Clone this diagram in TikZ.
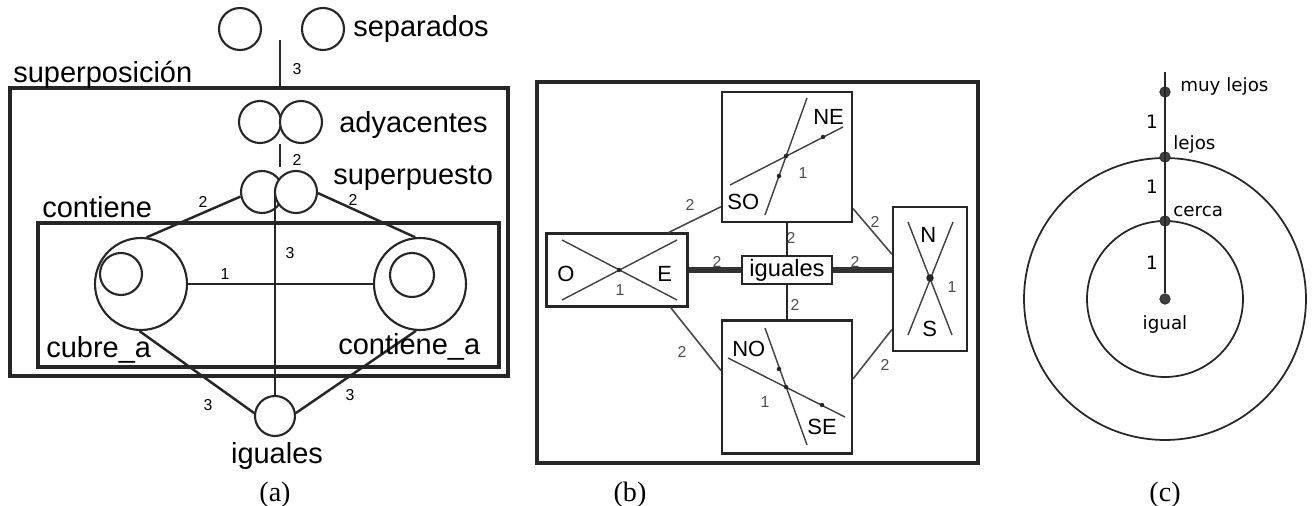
\documentclass[tikz,border=0pt]{standalone}
\usepackage{fontspec}
\setmainfont{Liberation Sans}
\newfontfamily\capfont{Liberation Serif}
\newfontfamily\dvfont{DejaVu Sans}
\usepackage{tikz}
\usetikzlibrary{calc}
\tikzset{
  cir/.style={circle,draw=black!85,fill=white,minimum size=.84cm,inner sep=0pt,line width=1.2pt},
  cirb/.style={cir,minimum size=1.84cm},
  ring/.style={circle,draw=black!85,inner sep=0pt,line width=1pt},
  bx/.style={draw=black!85,line width=2pt},
  bxb/.style={draw=black!85,line width=1.8pt},
  bxs/.style={rectangle,draw=black!85,fill=white,line width=1.2pt,inner sep=0pt},
  lnk/.style={draw=black!85,line width=1.4pt},
  lnt/.style={draw=black!72,line width=.9pt},
  lnw/.style={draw=black!80,line width=3.4pt},
  lnc/.style={draw=black!85,line width=1.1pt},
  dgl/.style={draw=black!75,line width=.8pt},
  dt/.style={circle,fill=black!75,draw=black!85,minimum size=2.1mm,inner sep=0pt},
  pt/.style={circle,fill=black!85,minimum size=.9mm,inner sep=0pt},
  la/.style={font=\fontsize{16.5}{18}\selectfont,inner sep=0pt},
  lbx/.style={font=\fontsize{12.5}{14}\selectfont,inner sep=0pt},
  lc/.style={font=\dvfont\fontsize{10.4}{12}\selectfont,inner sep=0pt},
  nm/.style={font=\fontsize{9}{10}\selectfont},
  nmg/.style={font=\fontsize{9}{10}\selectfont,text=black!70},
  nmc/.style={font=\dvfont\fontsize{10.5}{12}\selectfont},
  capt/.style={font=\capfont\fontsize{16}{18}\selectfont},
}

\begin{document}
\begin{tikzpicture}[x=.02cm,y=-.02cm]
\useasboundingbox (0,0) rectangle (1312,506);
% ---- (a) superposicion
\node[cir] (sepL) at (240,29) {}; \node[cir] (sepR) at (323,29) {};
\node[la,anchor=base west] (tsep) at (353,37) {separados};
\coordinate (sepC) at (280,40);
\draw[bx] (10,88) coordinate (supTL) rectangle (508,376);
\node[la,anchor=base west] (tsup) at (13,83) {superposición};
\draw[lnk] (sepC) -- (sepC |- supTL);
\node[nm] (n1) at (297,69) {3};
\node[cir] (adyL) at (260,122) {}; \node[cir] (adyR) at (301,122) {};
\node[la,anchor=base west] (tady) at (339,133) {adyacentes};
\coordinate (adyC) at (280,144); \coordinate (supC) at (280,167);
\draw[lnk] (adyC) -- (supC);
\node[nm] (n2) at (297,160) {2};
\node[cir] (supL) at (262,192) {}; \node[cir] (supR) at (296,192) {};
\node[la,anchor=base west] (tsupp) at (333,185) {superpuesto};
\node[la,anchor=base west] (tcon) at (42,218) {contiene};
\draw[bxb] (38,223) rectangle (499,367);
\node[cirb] (cub) at (141,284) {}; \node[cir] (cubi) at (121,274) {};
\node[cirb] (con) at (420,284) {}; \node[cir,minimum size=.88cm] (coni) at (412,275) {};
\node[cir,minimum size=.8cm] (igA) at (275,416) {};
\coordinate (supM) at (275,193);
\draw[lnk] (supL.192) -- (cub.83) (supR.-3) -- (con.96);
\draw[lnk] (cub.east) -- (con.west);
\draw[lnk] (cub.268) -- (igA.172) (con.265) -- (igA.8);
\draw[lnk] (supM) -- (igA.north);
\node[nm] (n3) at (203,202) {2}; \node[nm] (n4) at (353,200) {2};
\node[nm] (n5) at (290,253) {3}; \node[nm] (n6) at (225,274) {1};
\node[nm] (n7) at (208,405) {3}; \node[nm] (n8) at (350,395) {3};
\node[la,anchor=base west] (tcub) at (46,358) {cubre\_a};
\node[la,anchor=base west] (tcoa) at (338,355) {contiene\_a};
\node[la,anchor=base] (tigA) at (277,463) {iguales};
\node[capt,anchor=base] (capa) at (275,501) {(a)};

% ---- (b) orientacion
\draw[bx] (537,82) rectangle (978,463);
\node[bxs,minimum width=2.6cm,minimum height=2.6cm] (ne) at (787,157) {};
\node[bxs,minimum width=2.82cm,minimum height=1.46cm] (oe) at (617,270) {};
\node[bxs,minimum width=1.8cm,minimum height=.56cm,lbx,font=\fontsize{13.5}{14}\selectfont] (ig) at (787,270) {iguales};
\node[bxs,minimum width=1.48cm,minimum height=2.88cm] (ns) at (930,279) {};
\node[bxs,minimum width=2.6cm,minimum height=2.66cm] (nw) at (787,387) {};
\draw[lnt] (ne.217) -- (oe.36) (ne.-38) -- (ns.147);
\draw[lnt] (nw.166) -- (oe.-35) (nw.7) -- (ns.233);
\draw[lnk] (ne.south) -- (ig.north) (ig.south) -- (nw.north);
\draw[lnw] (oe.east) -- (ig.west) (ig.east) -- (ig.east -| ns.west);
% crosses inside the boxes
\draw[dgl] (730,185) -- (843,127) (765,215) -- (807,98);
\node[pt] (d1) at (823,137) {}; \node[pt] (d2) at (786,156) {}; \node[pt] (d3) at (779,176) {};
\node[lbx,anchor=base west] (tne) at (813,125) {NE};
\node[lbx,anchor=base west] (tso) at (727,210) {SO};
\node[nmg] (m1) at (803,173) {1};
\draw[dgl] (562,240) -- (677,300) (562,300) -- (677,240);
\node[pt] (d4) at (619,270) {};
\node[lbx,anchor=base west] (to) at (557,282) {O};
\node[lbx,anchor=base west] (te) at (657,282) {E};
\node[nmg] (m2) at (620,290) {1};
\draw[dgl] (908,222) -- (952,335) (953,222) -- (908,335);
\node[pt,minimum size=1.5mm] (d5) at (930,278) {};
\node[lbx,anchor=base west] (tn) at (920,243) {N};
\node[lbx,anchor=base west] (ts) at (922,337) {S};
\node[nmg] (m3) at (952,287) {1};
\draw[dgl] (728,358) -- (845,417) (765,328) -- (807,445);
\node[pt] (d6) at (822,405) {}; \node[pt] (d7) at (786,387) {}; \node[pt] (d8) at (779,369) {};
\node[lbx,anchor=base west] (tno) at (732,357) {NO};
\node[lbx,anchor=base west] (tse) at (807,435) {SE};
\node[nmg] (m4) at (765,402) {1};
\node[nmg] (m5) at (690,205) {2}; \node[nmg] (m6) at (875,222) {2};
\node[nmg] (m7) at (791,238) {2}; \node[nmg] (m8) at (717,262) {2};
\node[nmg] (m9) at (855,262) {2}; \node[nmg] (m10) at (795,305) {2};
\node[nmg] (m11) at (682,352) {2}; \node[nmg] (m12) at (885,365) {2};
\node[capt,anchor=base] (capb) at (630,501) {(b)};

% ---- (c) distancia
\node[ring,minimum size=5.64cm] (cout) at (1165,299) {};
\node[ring,minimum size=3.12cm] (cin) at (1165,299) {};
\coordinate (top) at (1165,72);
\node[dt] (muy) at (1165,92) {}; \node[dt] (lej) at (1165,157) {};
\node[dt] (cer) at (1165,221) {}; \node[dt] (igu) at (1165,299) {};
\draw[lnc] (top) -- (igu);
\node[lc,anchor=base west] (tmuy) at (1180,92) {muy lejos};
\node[lc,anchor=base west] (tlej) at (1173,150) {lejos};
\node[lc,anchor=base west] (tcer) at (1173,217) {cerca};
\node[lc,anchor=base] (tigu) at (1165,330) {igual};
\node[nmc] (k1) at (1152,122) {1}; \node[nmc] (k2) at (1152,187) {1};
\node[nmc] (k3) at (1152,263) {1};
\node[capt,anchor=base] (capc) at (1165,501) {(c)};
\end{tikzpicture}
\end{document}
